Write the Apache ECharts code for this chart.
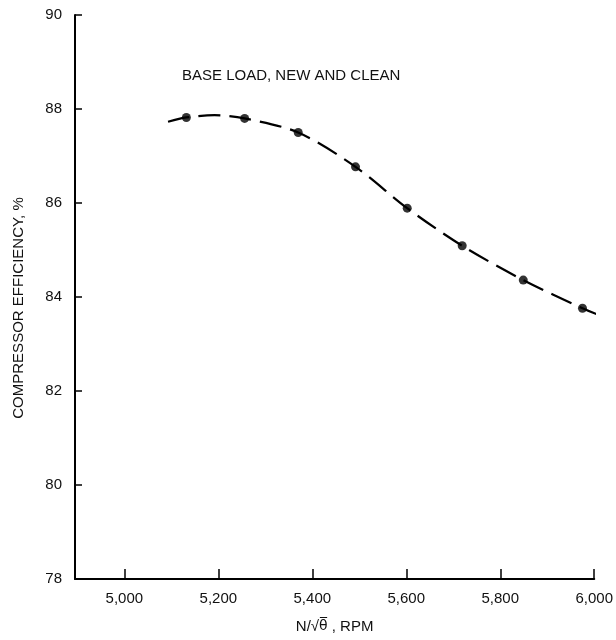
<!DOCTYPE html>
<html>
<head>
<meta charset="utf-8">
<style>html,body{margin:0;padding:0;background:#fff;}#c{width:616px;height:640px;}</style>
<script src="https://cdn.jsdelivr.net/npm/echarts@6/dist/echarts.min.js"></script>
</head>
<body>
<div id="c"></div>
<script>
const xTicks = [5000, 5200, 5400, 5600, 5800, 6000];
const yTicks = [78, 80, 82, 84, 86, 88, 90];
const pointRpm = [5132, 5256, 5370, 5492, 5602, 5719, 5849, 5975];
const pointEff = [87.82, 87.80, 87.50, 86.77, 85.89, 85.09, 84.36, 83.76];
const curveRpm = [5093, 5132, 5192, 5256, 5370, 5492, 5602, 5719, 5849, 5975, 6007];
const curveEff = [87.73, 87.82, 87.87, 87.80, 87.50, 86.77, 85.89, 85.09, 84.36, 83.76, 83.63];
const annotation = 'BASE LOAD, NEW AND CLEAN';
const yTitle = 'COMPRESSOR EFFICIENCY, %';
const xTitleParts = ['N/\u221A', '\u03B8\u0305', ' , RPM'];

const FONT = '"Liberation Sans", Arial, sans-serif';
const chart = echarts.init(document.getElementById('c'), null, {renderer: 'canvas'});
chart.setOption({
  animation: false,
  backgroundColor: '#ffffff',
  grid: {left: 75, right: 20, top: 15, bottom: 61},
  xAxis: {
    type: 'value', min: 4895, max: 6000,
    splitLine: {show: false},
    axisLine: {show: true, onZero: false, lineStyle: {color: '#000', width: 2}},
    axisTick: {show: true, inside: true, length: 10, customValues: xTicks, lineStyle: {color: '#000', width: 1.5}},
    axisLabel: {show: true, customValues: xTicks, margin: 12, color: '#111', fontFamily: FONT, fontSize: 15,
      formatter: v => v.toLocaleString('en-US')},
    name: '{a|' + xTitleParts[0] + '}{b|' + xTitleParts[1] + '}{a|' + xTitleParts[2] + '}',
    nameLocation: 'middle', nameGap: 40,
    nameTextStyle: {color: '#111', fontFamily: FONT, fontSize: 15,
      rich: {a: {color: '#111', fontFamily: FONT, fontSize: 15},
             b: {color: '#111', fontFamily: '"DejaVu Sans"', fontSize: 14}}}
  },
  yAxis: {
    type: 'value', min: 78, max: 90, interval: 2,
    splitLine: {show: false},
    axisLine: {show: true, onZero: false, lineStyle: {color: '#000', width: 2}},
    axisTick: {show: true, inside: true, length: 7, lineStyle: {color: '#000', width: 1.5}},
    axisLabel: {show: true, margin: 13, color: '#111', fontFamily: FONT, fontSize: 15}
  },
  graphic: [
    {type: 'text', left: 182, top: 68, style: {text: annotation, fill: '#111', font: '15px ' + FONT}},
    {type: 'text', x: 19, y: 308, rotation: Math.PI / 2,
      style: {text: yTitle, fill: '#111', font: '15px ' + FONT, align: 'center', verticalAlign: 'middle'}}
  ],
  series: [
    {type: 'line', data: curveRpm.map((x, i) => [x, curveEff[i]]), smooth: 0.3,
      showSymbol: false, clip: false, silent: true,
      lineStyle: {color: '#000', width: 2.2, type: [22, 9]}},
    {type: 'scatter', data: pointRpm.map((x, i) => [x, pointEff[i]]), symbol: 'circle', symbolSize: 9,
      itemStyle: {color: '#000'}, silent: true}
  ]
});
</script>
</body>
</html>
